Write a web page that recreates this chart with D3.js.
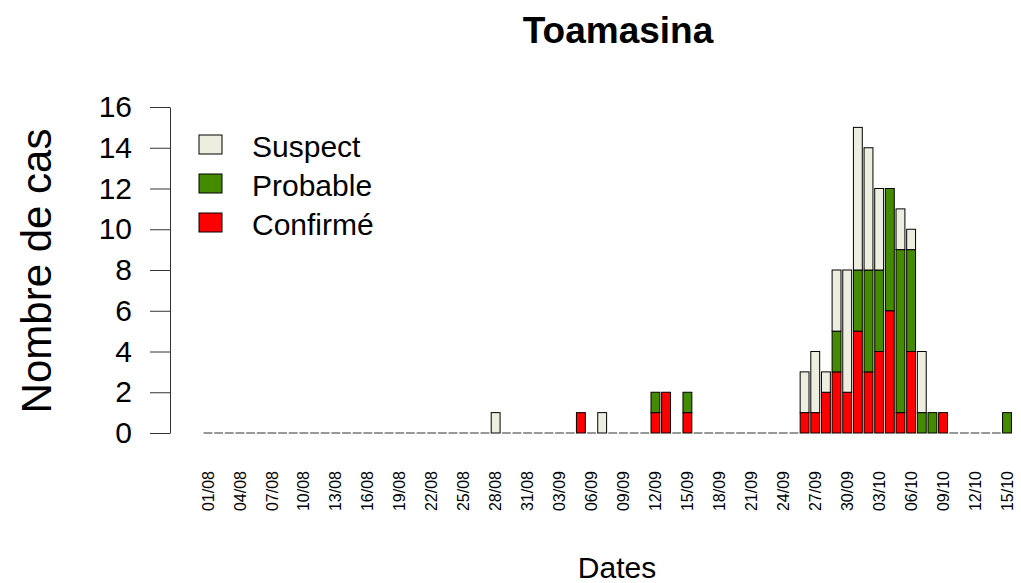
<!DOCTYPE html>
<html>
<head>
<meta charset="utf-8">
<script src="https://cdn.jsdelivr.net/npm/d3@7"></script>
<style>
  body { margin: 0; background: #fff; }
  svg { font-family: "Liberation Sans", Arial, sans-serif; }
</style>
</head>
<body>
<div id="chart"></div>
<script>
// one value per day, 01/08 .. 15/10
var confirmed = [
    0,0,0,0,0,0,0,0,0,0,
    0,0,0,0,0,0,0,0,0,0,
    0,0,0,0,0,0,0,0,0,0,
    0,0,0,0,0,1,0,0,0,0,
    0,0,1,2,0,1,0,0,0,0,
    0,0,0,0,0,0,1,1,2,3,
    2,5,3,4,6,1,4,0,0,1,
    0,0,0,0,0,0];
var probable = [
    0,0,0,0,0,0,0,0,0,0,
    0,0,0,0,0,0,0,0,0,0,
    0,0,0,0,0,0,0,0,0,0,
    0,0,0,0,0,0,0,0,0,0,
    0,0,1,0,0,1,0,0,0,0,
    0,0,0,0,0,0,0,0,0,2,
    0,3,5,4,6,8,5,1,1,0,
    0,0,0,0,0,1];
var suspect = [
    0,0,0,0,0,0,0,0,0,0,
    0,0,0,0,0,0,0,0,0,0,
    0,0,0,0,0,0,0,1,0,0,
    0,0,0,0,0,0,0,1,0,0,
    0,0,0,0,0,0,0,0,0,0,
    0,0,0,0,0,0,2,3,1,3,
    6,7,6,4,0,2,1,3,0,0,
    0,0,0,0,0,0];

var seriesNames = ["Confirmé", "Probable", "Suspect"];
var seriesColors = ["#ff0000", "#458b00", "#eeeee0"];
var yTicks = [0, 2, 4, 6, 8, 10, 12, 14, 16];

function init()
{
    var w = 1021;
    var h = 583;

    var fmt = d3.timeFormat("%d/%m");
    var days = d3.timeDay.range(new Date(2014, 7, 1), new Date(2014, 9, 16)).map(fmt);

    var rows = days.map(function(d, i){
        return {day: d, "Confirmé": confirmed[i], "Probable": probable[i], "Suspect": suspect[i]};
    });

    var stacked = d3.stack().keys(seriesNames)(rows);

    var step = (1007 - 208) / (days.length - 1);
    var xScale = d3.scaleBand()
        .domain(days)
        .range([208 - step / 2, 1007 + step / 2])
        .paddingInner(0.2 / 1.2)
        .paddingOuter(0.1 / 1.2);

    var yScale = d3.scaleLinear()
        .domain([0, 16])
        .range([433, 107]);

    var svg = d3.select("#chart")
        .append("svg")
        .attr("width", w)
        .attr("height", h);

    // zero-height bars show up as small dashes on the base line
    svg.selectAll("line.zero")
        .data(rows.filter(function(r){ return r["Confirmé"] + r["Probable"] + r["Suspect"] == 0; }))
        .enter()
        .append("line")
        .attr("class", "zero")
        .attr("x1", function(d){ return xScale(d.day); })
        .attr("x2", function(d){ return xScale(d.day) + xScale.bandwidth(); })
        .attr("y1", yScale(0))
        .attr("y2", yScale(0))
        .attr("stroke", "#333")
        .attr("stroke-width", 1);

    svg.selectAll("g.layer")
        .data(stacked)
        .enter()
        .append("g")
        .attr("class", "layer")
        .attr("fill", function(d, i){ return seriesColors[i]; })
        .selectAll("rect")
        .data(function(d){ return d.filter(function(p){ return p[1] > p[0]; }); })
        .enter()
        .append("rect")
        .attr("x", function(d){ return xScale(d.data.day); })
        .attr("y", function(d){ return yScale(d[1]); })
        .attr("width", xScale.bandwidth())
        .attr("height", function(d){ return yScale(d[0]) - yScale(d[1]); })
        .attr("stroke", "#000")
        .attr("stroke-width", 1);

    // y axis
    var yAxis = svg.append("g")
        .attr("transform", "translate(170,0)")
        .call(d3.axisLeft(yScale).tickValues(yTicks).tickSize(20).tickSizeOuter(0).tickPadding(18));
    yAxis.selectAll("text").attr("font-size", 30).attr("fill", "#000").attr("font-family", null);
    yAxis.selectAll("line, path").attr("stroke", "#333");

    // x labels, every third day, rotated
    svg.selectAll("text.xlab")
        .data(days.filter(function(d, i){ return i % 3 == 0; }))
        .enter()
        .append("text")
        .attr("class", "xlab")
        .attr("transform", function(d){
            return "translate(" + (xScale(d) + xScale.bandwidth() / 2) + ",471) rotate(-90)";
        })
        .attr("text-anchor", "end")
        .attr("dy", "0.35em")
        .attr("font-size", 16)
        .text(function(d){ return d; });

    svg.append("text")
        .attr("x", 618)
        .attr("y", 43)
        .attr("text-anchor", "middle")
        .attr("font-size", 37)
        .attr("font-weight", "bold")
        .text("Toamasina");

    svg.append("text")
        .attr("transform", "translate(51,271) rotate(-90)")
        .attr("text-anchor", "middle")
        .attr("font-size", 42)
        .text("Nombre de cas");

    svg.append("text")
        .attr("x", 617)
        .attr("y", 578)
        .attr("text-anchor", "middle")
        .attr("font-size", 30)
        .text("Dates");

    // legend, top to bottom: Suspect, Probable, Confirmé
    var legendOrder = [2, 1, 0];
    var legend = svg.selectAll("g.legend")
        .data(legendOrder)
        .enter()
        .append("g")
        .attr("class", "legend")
        .attr("transform", function(d, i){ return "translate(199," + (135 + i * 39) + ")"; });

    legend.append("rect")
        .attr("width", 23)
        .attr("height", 19)
        .attr("fill", function(d){ return seriesColors[d]; })
        .attr("stroke", "#000");

    legend.append("text")
        .attr("x", 53)
        .attr("y", 22)
        .attr("font-size", 30)
        .text(function(d){ return seriesNames[d]; });
};

window.onload = init;
</script>
</body>
</html>
